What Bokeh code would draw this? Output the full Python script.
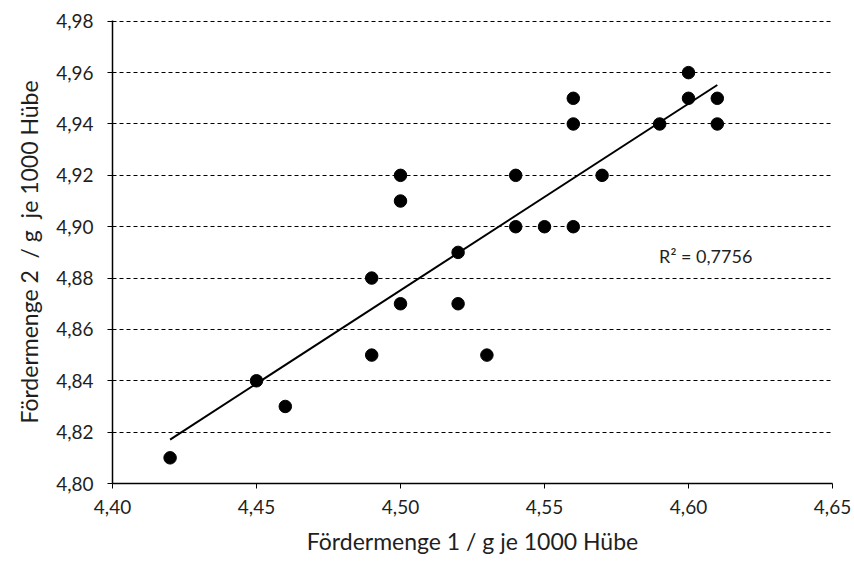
import numpy as np
from bokeh.plotting import figure
from bokeh.models import Range1d, FixedTicker, CustomJSTickFormatter, Label
from bokeh.embed import file_html
from bokeh.resources import INLINE

# Delivered quantity of pump 1 vs pump 2 (g per 1000 strokes)
menge_1 = [4.42, 4.45, 4.46, 4.49, 4.49, 4.50, 4.50, 4.50, 4.52, 4.52, 4.53, 4.54,
           4.54, 4.55, 4.56, 4.56, 4.56, 4.57, 4.59, 4.60, 4.60, 4.61, 4.61]
menge_2 = [4.81, 4.84, 4.83, 4.88, 4.85, 4.92, 4.91, 4.87, 4.89, 4.87, 4.85, 4.92,
           4.90, 4.90, 4.95, 4.94, 4.90, 4.92, 4.94, 4.96, 4.95, 4.95, 4.94]

x_ticks = [4.40, 4.45, 4.50, 4.55, 4.60, 4.65]
y_ticks = [4.80, 4.82, 4.84, 4.86, 4.88, 4.90, 4.92, 4.94, 4.96, 4.98]
r2_text = "R² = 0,7756"

FONT = "Lato"
TEXT_COLOR = "#1f1f1f"

# small headroom so the topmost gridline is not clipped by the frame
p = figure(width=854, height=562, output_backend="svg", toolbar_location=None,
           x_range=Range1d(4.40, 4.65), y_range=Range1d(4.80, 4.9803),
           min_border_left=112, min_border_right=22, min_border_top=20,
           min_border_bottom=79)
p.outline_line_color = None
p.background_fill_color = "white"
p.border_fill_color = "white"

# Linear trend line over the data span
slope, intercept = np.polyfit(menge_1, menge_2, 1)
tx = np.array([min(menge_1), max(menge_1)])
p.line(tx, slope * tx + intercept, line_color="black", line_width=2)

p.scatter(menge_1, menge_2, marker="circle", size=12.5, fill_color="black",
          line_color="black")

p.add_layout(Label(x=4.5898, y=4.8885, text=r2_text, text_font=FONT,
                   text_font_size="18px", text_color=TEXT_COLOR,
                   text_baseline="middle", text_align="left"))

comma_fmt = CustomJSTickFormatter(code="return tick.toFixed(2).replace('.', ',');")

for ax, ticks in ((p.xaxis[0], x_ticks), (p.yaxis[0], y_ticks)):
    ax.ticker = FixedTicker(ticks=ticks)
    ax.formatter = comma_fmt
    ax.minor_tick_line_color = None
    ax.major_tick_out = 5
    ax.major_tick_in = 0
    ax.axis_line_color = "black"
    ax.axis_line_width = 1.5
    ax.major_tick_line_color = "black"
    ax.major_label_text_font = FONT
    ax.major_label_text_font_size = "19px"
    ax.major_label_text_color = TEXT_COLOR
    ax.axis_label_text_font = FONT
    ax.axis_label_text_font_size = "23px"
    ax.axis_label_text_font_style = "normal"
    ax.axis_label_text_color = TEXT_COLOR

p.xaxis.axis_label = "Fördermenge 1 / g je 1000 Hübe"
p.yaxis.axis_label = "Fördermenge 2 \u00a0/ g \u00a0je 1000 Hübe"
p.xaxis.major_label_standoff = 11
p.yaxis.major_label_standoff = 14
p.yaxis.major_label_text_align = "right"
p.yaxis.major_label_text_baseline = "middle"
p.xaxis.axis_label_standoff = 10
p.yaxis.axis_label_standoff = 10

p.xgrid.grid_line_color = None
p.ygrid.ticker = FixedTicker(ticks=y_ticks)
p.ygrid.grid_line_color = "black"
p.ygrid.grid_line_dash = "4 3"
p.ygrid.grid_line_width = 1

open("out.html", "w").write(file_html(p, INLINE))
